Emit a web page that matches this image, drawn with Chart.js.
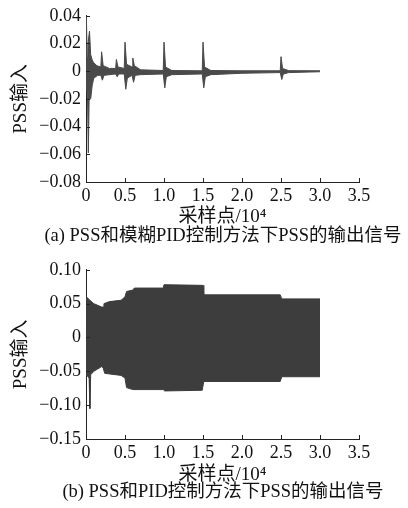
<!DOCTYPE html>
<html><head><meta charset="utf-8">
<script src="https://cdn.jsdelivr.net/npm/chart.js@4/dist/chart.umd.min.js"></script>
<style>
html,body{margin:0;padding:0;background:#fff;}
body{width:408px;height:508px;position:relative;overflow:hidden;}
.box{position:absolute;left:0;width:408px;}
.cap{position:absolute;left:0;width:446px;text-align:center;font:18.5px "Liberation Serif","Noto Sans CJK SC",serif;color:#111;white-space:nowrap;line-height:22px;}
</style></head><body>
<div class="box" style="top:0;height:228px"><canvas id="c1"></canvas></div>
<div class="cap" style="top:224px">(a) PSS和模糊PID控制方法下PSS的输出信号</div>
<div class="box" style="top:254px;height:232px"><canvas id="c2"></canvas></div>
<div class="cap" style="top:480px">(b) PSS和PID控制方法下PSS的输出信号</div>
<script>
// x in units of 10^4 samples
const xTickLabels = ["0","0.5","1.0","1.5","2.0","2.5","3.0","3.5"];
const yTickLabelsA = ["0.04","0.02","0","−0.02","−0.04","−0.06","−0.08"];
const yTickLabelsB = ["0.10","0.05","0","−0.05","−0.10","−0.15"];

// (a) upper / lower envelope of the oscillating signal
const aUpperX = [0,0.005,0.015,0.025,0.045,0.06,0.08,0.1,0.14,0.19,0.2,0.22,0.3,0.38,0.39,0.41,0.49,0.5,0.52,0.59,0.6,0.62,0.7,0.99,1.0,1.02,1.1,1.49,1.5,1.52,1.6,2.0,2.49,2.5,2.52,2.6,3.0];
const aUpperY = [0,0.04,0.01,0.02,0.029,0.012,0.008,0.006,0.004,0.003,0.014,0.004,0.002,0.002,0.0085,0.003,0.002,0.021,0.005,0.003,0.0095,0.004,0.001,0.0005,0.021,0.003,0.0005,0.0003,0.021,0.003,0.0005,0.0003,0.0003,0.0105,0.002,0.0004,0.0003];
const aLowerX = [0,0.005,0.02,0.03,0.04,0.06,0.08,0.1,0.15,0.19,0.21,0.23,0.38,0.4,0.42,0.49,0.51,0.53,0.59,0.61,0.63,0.7,0.99,1.01,1.03,1.1,1.49,1.51,1.53,1.6,2.0,2.49,2.51,2.53,2.6,3.0];
const aLowerY = [0,-0.01,-0.02,-0.059,-0.02,-0.02,-0.01,-0.005,-0.003,-0.003,-0.0065,-0.003,-0.002,-0.004,-0.002,-0.002,-0.013,-0.005,-0.003,-0.008,-0.003,-0.0025,-0.002,-0.012,-0.004,-0.0025,-0.002,-0.012,-0.004,-0.0025,-0.0015,-0.001,-0.006,-0.002,-0.001,-0.0004];

// (b) upper / lower envelope
const bUpperX = [0,0.005,0.05,0.1,0.2,0.22,0.23,0.3,0.45,0.5,0.52,0.6,0.62,0.99,1.0,1.49,1.5,1.51,2.49,2.51,3.0];
const bUpperY = [0,0.06,0.055,0.05,0.045,0.045,0.05,0.053,0.055,0.06,0.068,0.07,0.073,0.073,0.078,0.077,0.077,0.063,0.063,0.057,0.057];
const bLowerX = [0,0.005,0.04,0.05,0.06,0.1,0.2,0.22,0.24,0.45,0.5,0.52,0.6,0.99,1.01,1.49,1.51,2.49,2.51,3.0];
const bLowerY = [0,-0.055,-0.06,-0.105,-0.055,-0.05,-0.043,-0.045,-0.053,-0.056,-0.06,-0.074,-0.077,-0.077,-0.079,-0.078,-0.065,-0.065,-0.058,-0.058];

const pts = (xs, ys) => xs.map((x,i)=>({x, y: ys[i]}));
const FONT = '"Liberation Serif","Noto Sans CJK SC",serif';

const inwardTicks = {
  id:'inwardTicks',
  afterDraw(chart){
    const ctx = chart.ctx, a = chart.chartArea;
    const xs = chart.scales.x, ys = chart.scales.y;
    ctx.save();
    ctx.strokeStyle = '#222'; ctx.lineWidth = 1;
    ctx.beginPath();
    xs.ticks.forEach(t=>{ const p = Math.round(xs.getPixelForValue(t.value))+0.5; ctx.moveTo(p,a.bottom); ctx.lineTo(p,a.bottom-4); });
    ys.ticks.forEach(t=>{ const p = Math.round(ys.getPixelForValue(t.value))+0.5; ctx.moveTo(a.left,p); ctx.lineTo(a.left+4,p); });
    ctx.stroke();
    ctx.restore();
  }
};

function makeChart(id, up, lo, yMin, yMax, yStep, yLabels, color, xAxisH){
  return new Chart(document.getElementById(id), {
    type:'line',
    data:{datasets:[
      {data:up, borderColor:color, backgroundColor:color, borderWidth:1, pointRadius:0, fill:'+1', tension:0},
      {data:lo, borderColor:color, backgroundColor:color, borderWidth:1, pointRadius:0, fill:false, tension:0}
    ]},
    options:{
      responsive:true, maintainAspectRatio:false, animation:false,
      layout:{padding:{top:14,right:49,bottom:0,left:0}},
      plugins:{legend:{display:false}, tooltip:{enabled:false}},
      scales:{
        x:{type:'linear', min:0, max:3.5,
          ticks:{stepSize:0.5, padding:3, color:'#111', font:{family:FONT,size:18}, maxRotation:0,
            callback:(v,i)=>xTickLabels[i]},
          grid:{display:false, drawTicks:false},
          border:{display:true, color:'#222', width:1},
          title:{display:true, text:'采样点/10⁴', color:'#111', font:{family:FONT,size:19}, padding:{top:0,bottom:0}},
          afterFit(s){ s.height = xAxisH; }
        },
        y:{type:'linear', min:yMin, max:yMax,
          ticks:{stepSize:yStep, padding:5, color:'#111', font:{family:FONT,size:18},
            callback:(v,i,arr)=>yLabels[arr.length-1-i]},
          grid:{display:false, drawTicks:false},
          border:{display:true, color:'#222', width:1},
          title:{display:true, text:'PSS输入', color:'#111', font:{family:FONT,size:19}, padding:{top:10,bottom:0}},
          afterFit(s){ s.width = 86; }
        }
      }
    },
    plugins:[inwardTicks]
  });
}

makeChart('c1', pts(aUpperX,aUpperY), pts(aLowerX,aLowerY), -0.08, 0.04, 0.02, yTickLabelsA, '#4a4a4a', 46);
makeChart('c2', pts(bUpperX,bUpperY), pts(bLowerX,bLowerY), -0.15, 0.10, 0.05, yTickLabelsB, '#3d3d3d', 47);
</script>
</body></html>
